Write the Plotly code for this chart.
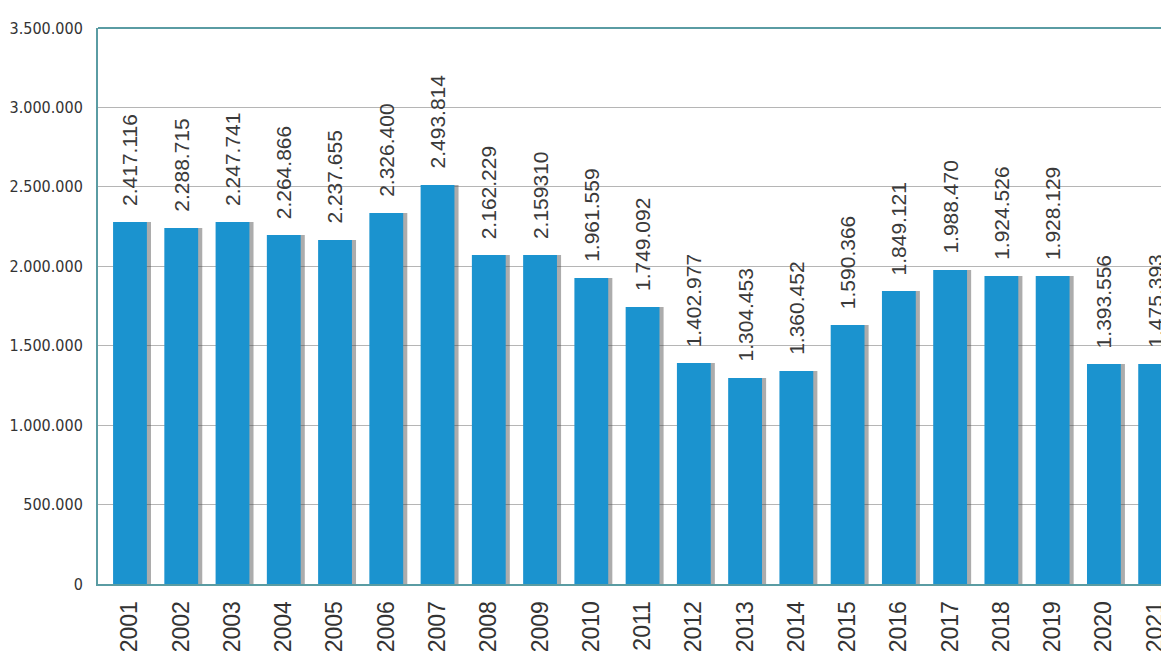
import plotly.graph_objects as go

years = ["2001", "2002", "2003", "2004", "2005", "2006", "2007", "2008", "2009", "2010", "2011",
         "2012", "2013", "2014", "2015", "2016", "2017", "2018", "2019", "2020", "2021"]
bar_values = [2279000, 2241000, 2279000, 2197000, 2165000, 2335000, 2512000, 2071000, 2071000,
              1926000, 1744000, 1391000, 1297000, 1341000, 1630000, 1844000, 1977000, 1939000,
              1939000, 1385000, 1385000]
bar_labels = ["2.417.116", "2.288.715", "2.247.741", "2.264.866", "2.237.655", "2.326.400",
              "2.493.814", "2.162.229", "2.159310", "1.961.559", "1.749.092", "1.402.977",
              "1.304.453", "1.360.452", "1.590.366", "1.849.121", "1.988.470", "1.924.526",
              "1.928.129", "1.393.556", "1.475.393"]
tick_vals = [0, 500000, 1000000, 1500000, 2000000, 2500000, 3000000, 3500000]
tick_text = ["0", "500.000", "1.000.000", "1.500.000", "2.000.000", "2.500.000", "3.000.000", "3.500.000"]

BAR = "#1b93cf"
FRAME = "#5a9ca3"
xpos = list(range(len(years)))

fig = go.Figure()
# soft shadow on the right side of each bar
fig.add_trace(go.Bar(
    x=xpos, y=bar_values,
    marker=dict(color="rgba(70,70,70,0.45)", line=dict(width=0)),
    width=0.66, offset=-0.33 + 0.08, hoverinfo="skip",
))
fig.add_trace(go.Bar(
    x=xpos, y=bar_values,
    marker=dict(color=BAR, line=dict(width=0)),
    width=0.66, offset=-0.33,
))

for i, (v, t) in enumerate(zip(bar_values, bar_labels)):
    fig.add_annotation(x=i, y=v, text=t, textangle=-90, showarrow=False,
                       xanchor="center", yanchor="bottom", yshift=14,
                       font=dict(family="Liberation Sans, Arial, sans-serif", size=21, color="#3a3a3a"))

fig.update_layout(
    width=1161, height=661,
    margin=dict(l=90, r=0, t=20, b=85),
    paper_bgcolor="white", plot_bgcolor="white",
    showlegend=False, barmode="overlay",
    xaxis=dict(
        range=[-0.624, 20.27], automargin=False,
        tickmode="array", tickvals=xpos, ticktext=years,
        tickangle=-90, showgrid=False, zeroline=False,
        showline=True, linecolor=FRAME, linewidth=2, mirror=False,
        ticks="", ticklen=0, ticklabelstandoff=6,
        tickfont=dict(family="Liberation Sans, Arial, sans-serif", size=23, color="#333333"),
    ),
    yaxis=dict(
        range=[0, 3500000], automargin=False,
        tickmode="array", tickvals=tick_vals, ticktext=tick_text,
        showgrid=True, gridcolor="#b5b5b5", gridwidth=1, zeroline=False,
        showline=True, linecolor=FRAME, linewidth=2,
        ticks="", ticklen=0, ticklabelstandoff=10,
        tickfont=dict(family="Liberation Sans Narrow, DejaVu Sans Condensed, sans-serif", size=16, color="#333333"),
    ),
)
fig.add_shape(type="line", xref="paper", yref="paper", x0=0, x1=1, y0=1, y1=1,
              line=dict(color=FRAME, width=2))

fig.write_html("out.html")
